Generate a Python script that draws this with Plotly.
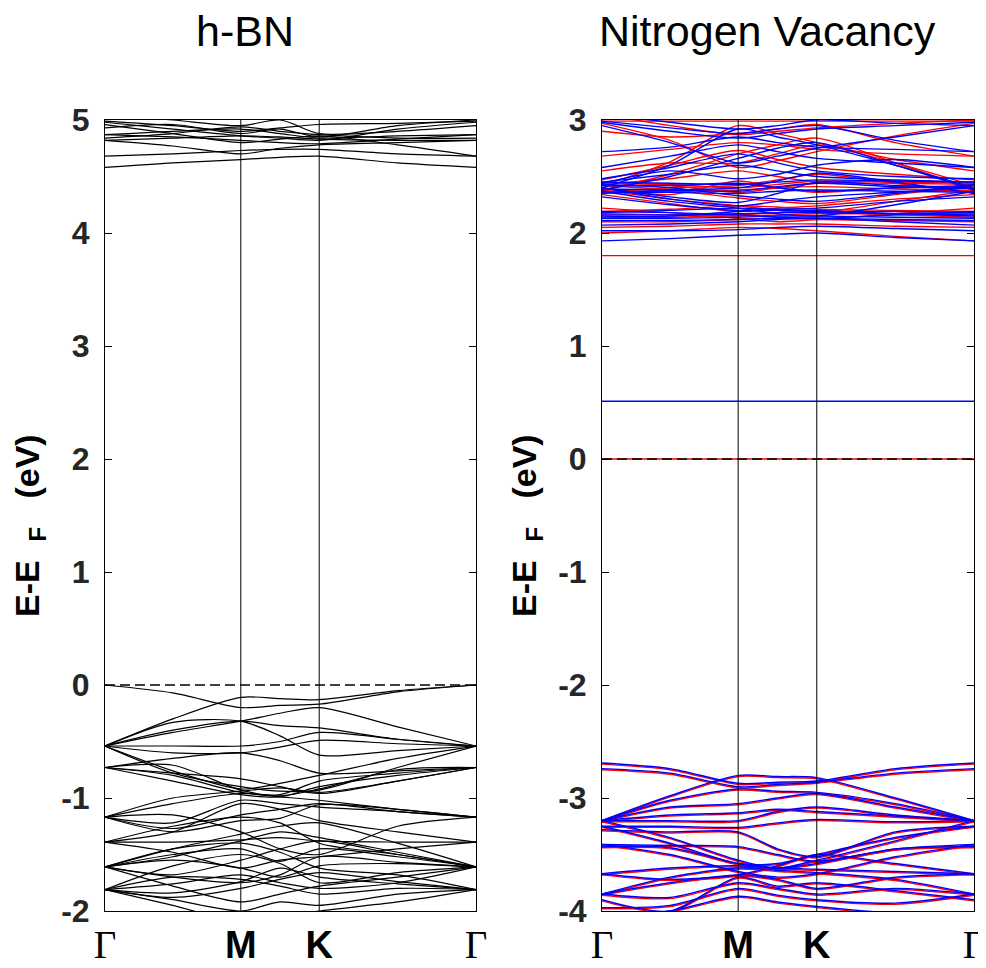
import plotly.graph_objects as go

# ---------------- data ----------------
HSP_X = [0.0, 0.5774, 0.9107, 1.5774]
HSP_LABELS = ["Γ", "M", "K", "Γ"]
K_SAMPLES = [0.0, 0.2887, 0.5774, 0.7440, 0.9107, 1.2440, 1.5774]

TITLES = ["h-BN", "Nitrogen Vacancy"]
Y_LABEL = "<b>E-E&nbsp;&nbsp;<sub>F</sub>&nbsp;&nbsp;&nbsp;(eV)</b>"
YRANGE_BN = [-2, 5]
YRANGE_VAC = [-4, 3]
YTICKS_BN = [-2, -1, 0, 1, 2, 3, 4, 5]
YTICKS_VAC = [-4, -3, -2, -1, 0, 1, 2, 3]

# h-BN bands (eV) at K_SAMPLES
BN_CONDUCTION = [
    [4.58, 4.62, 4.65, 4.67, 4.68, 4.62, 4.58],
    [4.68, 4.70, 4.73, 4.74, 4.74, 4.70, 4.68],
    [4.82, 4.84, 4.86, 4.85, 4.83, 4.82, 4.82],
    [4.82, 4.77, 4.70, 4.75, 4.78, 4.80, 4.82],
    [4.87, 4.85, 4.82, 4.80, 4.79, 4.83, 4.87],
    [4.87, 4.90, 4.92, 4.88, 4.84, 4.86, 4.87],
    [4.98, 4.92, 4.86, 4.84, 4.82, 4.92, 4.98],
    [4.99, 4.95, 4.90, 4.93, 4.96, 4.97, 4.99],
    [5.05, 5.00, 4.95, 5.00, 4.88, 4.90, 4.95],
    [4.93, 4.96, 4.88, 4.92, 4.85, 4.95, 5.00],
    [4.84, 4.88, 4.94, 4.90, 4.87, 4.84, 4.84],
    [4.96, 4.88, 4.80, 4.83, 4.86, 4.78, 4.68],
]
BN_VALENCE = [
    [0.00, -0.07, -0.20, -0.18, -0.17, -0.06, 0.00],
    [-0.54, -0.30, -0.11, -0.12, -0.13, -0.05, 0.00],
    [-0.54, -0.33, -0.32, -0.45, -0.62, -0.58, -0.54],
    [-0.54, -0.54, -0.54, -0.50, -0.42, -0.48, -0.54],
    [-0.54, -0.60, -0.60, -0.55, -0.49, -0.52, -0.54],
    [-0.54, -0.78, -0.90, -0.94, -0.93, -0.73, -0.54],
    [-0.54, -0.76, -0.92, -0.87, -0.80, -0.65, -0.54],
    [-0.54, -0.40, -0.32, -0.36, -0.38, -0.48, -0.54],
    [-0.54, -0.42, -0.32, -0.25, -0.20, -0.37, -0.54],
    [-0.73, -0.80, -0.95, -0.97, -0.85, -0.78, -0.73],
    [-0.73, -0.85, -0.97, -0.99, -0.90, -0.80, -0.73],
    [-0.73, -0.71, -0.93, -0.98, -0.92, -0.75, -0.73],
    [-0.73, -0.65, -0.60, -0.67, -0.78, -0.76, -0.73],
    [-0.73, -0.78, -0.83, -0.90, -0.96, -0.85, -0.73],
    [-1.17, -1.00, -0.94, -0.91, -0.95, -0.85, -0.73],
    [-1.17, -1.05, -0.96, -0.99, -1.02, -1.10, -1.17],
    [-1.17, -1.22, -1.02, -1.05, -1.08, -1.12, -1.17],
    [-1.17, -1.30, -1.20, -1.18, -1.06, -1.10, -1.17],
    [-1.17, -1.15, -1.30, -1.45, -1.50, -1.25, -1.17],
    [-1.17, -1.27, -1.15, -1.10, -1.05, -1.12, -1.17],
    [-1.39, -1.39, -1.37, -1.35, -1.38, -1.39, -1.39],
    [-1.39, -1.25, -1.17, -1.22, -1.40, -1.50, -1.61],
    [-1.39, -1.30, -1.05, -1.10, -1.20, -1.30, -1.39],
    [-1.39, -1.48, -1.62, -1.55, -1.52, -1.45, -1.39],
    [-1.61, -1.45, -1.32, -1.25, -1.22, -1.40, -1.61],
    [-1.61, -1.50, -1.45, -1.56, -1.45, -1.52, -1.61],
    [-1.61, -1.55, -1.62, -1.70, -1.60, -1.58, -1.61],
    [-1.61, -1.70, -1.75, -1.68, -1.52, -1.57, -1.61],
    [-1.61, -1.45, -1.40, -1.48, -1.62, -1.68, -1.81],
    [-1.61, -1.52, -1.38, -1.30, -1.35, -1.48, -1.61],
    [-1.61, -1.68, -1.55, -1.45, -1.38, -1.50, -1.61],
    [-1.61, -1.78, -1.92, -1.85, -1.78, -1.70, -1.61],
    [-1.81, -1.70, -1.72, -1.78, -1.85, -1.80, -1.81],
    [-1.81, -1.84, -1.74, -1.62, -1.70, -1.76, -1.81],
    [-1.81, -1.60, -1.50, -1.58, -1.75, -1.66, -1.61],
    [-1.81, -1.76, -1.68, -1.75, -1.80, -1.75, -1.61],
    [-1.81, -1.88, -1.80, -1.72, -1.66, -1.74, -1.81],
    [-1.81, -1.90, -2.00, -1.92, -1.95, -1.85, -1.81],
    [-1.81, -1.95, -2.10, -2.05, -2.00, -1.92, -1.81],
]

# Nitrogen vacancy: spin-up (red) and spin-down (blue) bands (eV)
VAC_UP_CONDUCTION = [
    [1.80, 1.80, 1.80, 1.80, 1.80, 1.80, 1.80],
    [2.00, 2.02, 2.05, 2.04, 2.02, 1.97, 1.93],
    [2.05, 2.06, 2.08, 2.08, 2.08, 2.06, 2.05],
    [2.10, 2.10, 2.12, 2.13, 2.12, 2.11, 2.10],
    [2.14, 2.14, 2.16, 2.18, 2.19, 2.16, 2.14],
    [2.17, 2.16, 2.15, 2.16, 2.17, 2.17, 2.17],
    [2.19, 2.21, 2.24, 2.23, 2.21, 2.20, 2.19],
    [2.22, 2.18, 2.13, 2.10, 2.12, 2.17, 2.22],
    [2.34, 2.26, 2.19, 2.22, 2.24, 2.30, 2.34],
    [2.38, 2.30, 2.24, 2.20, 2.18, 2.28, 2.38],
    [2.37, 2.37, 2.38, 2.40, 2.41, 2.39, 2.37],
    [2.40, 2.34, 2.46, 2.40, 2.36, 2.40, 2.40],
    [2.43, 2.48, 2.55, 2.50, 2.45, 2.44, 2.43],
    [2.44, 2.43, 2.40, 2.43, 2.46, 2.45, 2.44],
    [2.47, 2.60, 2.73, 2.65, 2.58, 2.52, 2.47],
    [2.55, 2.62, 2.62, 2.70, 2.78, 2.65, 2.55],
    [2.68, 2.74, 2.80, 2.78, 2.74, 2.70, 2.68],
    [2.38, 2.52, 2.70, 2.78, 2.84, 2.62, 2.38],
    [2.42, 2.38, 2.31, 2.28, 2.26, 2.34, 2.42],
    [2.42, 2.63, 2.95, 2.88, 2.80, 2.62, 2.42],
    [2.97, 2.82, 2.58, 2.64, 2.72, 2.86, 2.97],
    [2.99, 2.99, 2.99, 2.99, 2.99, 2.99, 2.99],
    [3.05, 2.95, 2.87, 2.90, 2.93, 2.97, 3.00],
    [2.36, 2.40, 2.42, 2.47, 2.52, 2.44, 2.36],
    [2.45, 2.42, 2.36, 2.40, 2.44, 2.46, 2.45],
    [2.90, 2.85, 2.88, 2.92, 2.96, 2.80, 2.68],
]
VAC_DN_CONDUCTION = [
    [1.93, 1.95, 1.98, 1.99, 2.00, 1.96, 1.93],
    [2.02, 2.02, 2.03, 2.05, 2.06, 2.04, 2.02],
    [2.07, 2.08, 2.10, 2.12, 2.13, 2.10, 2.07],
    [2.11, 2.11, 2.12, 2.13, 2.13, 2.12, 2.11],
    [2.13, 2.13, 2.14, 2.15, 2.15, 2.14, 2.13],
    [2.15, 2.15, 2.19, 2.20, 2.20, 2.17, 2.15],
    [2.16, 2.16, 2.17, 2.18, 2.18, 2.17, 2.16],
    [2.18, 2.20, 2.22, 2.21, 2.19, 2.19, 2.18],
    [2.19, 2.18, 2.16, 2.14, 2.13, 2.16, 2.19],
    [2.32, 2.25, 2.20, 2.21, 2.22, 2.28, 2.32],
    [2.37, 2.28, 2.22, 2.17, 2.15, 2.25, 2.37],
    [2.36, 2.36, 2.35, 2.37, 2.38, 2.37, 2.36],
    [2.39, 2.38, 2.37, 2.41, 2.44, 2.41, 2.39],
    [2.40, 2.32, 2.27, 2.35, 2.45, 2.42, 2.40],
    [2.42, 2.42, 2.44, 2.40, 2.37, 2.40, 2.42],
    [2.45, 2.44, 2.43, 2.45, 2.47, 2.46, 2.45],
    [2.45, 2.52, 2.60, 2.55, 2.50, 2.47, 2.45],
    [2.48, 2.58, 2.70, 2.62, 2.55, 2.50, 2.48],
    [2.58, 2.68, 2.78, 2.72, 2.66, 2.62, 2.58],
    [2.72, 2.76, 2.85, 2.80, 2.76, 2.74, 2.72],
    [2.38, 2.50, 2.66, 2.75, 2.80, 2.60, 2.38],
    [2.40, 2.60, 2.92, 2.85, 2.78, 2.60, 2.40],
    [2.95, 2.80, 2.62, 2.68, 2.75, 2.85, 2.95],
    [2.43, 2.40, 2.33, 2.30, 2.28, 2.35, 2.43],
    [2.98, 2.90, 2.84, 2.88, 2.92, 2.95, 2.98],
    [2.99, 2.93, 2.88, 2.92, 2.95, 2.82, 2.72],
    [3.05, 2.98, 2.92, 2.95, 3.00, 2.97, 2.95],
    [2.40, 2.30, 2.24, 2.28, 2.32, 2.36, 2.40],
    [2.44, 2.55, 2.48, 2.52, 2.60, 2.65, 2.58],
    [2.35, 2.38, 2.40, 2.46, 2.53, 2.45, 2.35],
]
VAC_UP_DEFECT = [0.00, 0.00, 0.00, 0.00, 0.00, 0.00, 0.00]
VAC_DN_DEFECT = [0.51, 0.51, 0.51, 0.51, 0.51, 0.51, 0.51]

VAC_DN_VALENCE = [
    [-2.69, -2.74, -2.87, -2.86, -2.85, -2.74, -2.69],
    [-2.74, -2.78, -2.90, -2.88, -2.86, -2.78, -2.74],
    [-3.20, -2.98, -2.80, -2.81, -2.82, -3.00, -3.20],
    [-3.20, -3.02, -2.92, -2.94, -2.95, -3.05, -3.20],
    [-3.20, -3.08, -3.05, -3.00, -2.96, -3.08, -3.20],
    [-3.20, -3.15, -3.13, -3.10, -3.12, -3.16, -3.20],
    [-3.20, -3.20, -3.20, -3.12, -3.08, -3.15, -3.20],
    [-3.25, -3.25, -3.26, -3.22, -3.19, -3.21, -3.20],
    [-3.20, -3.35, -3.55, -3.62, -3.55, -3.38, -3.20],
    [-3.25, -3.40, -3.58, -3.58, -3.50, -3.35, -3.25],
    [-3.28, -3.30, -3.30, -3.45, -3.52, -3.30, -3.25],
    [-3.41, -3.42, -3.43, -3.50, -3.56, -3.45, -3.41],
    [-3.43, -3.44, -3.58, -3.62, -3.58, -3.45, -3.43],
    [-3.67, -3.62, -3.60, -3.62, -3.63, -3.65, -3.67],
    [-3.85, -3.70, -3.62, -3.64, -3.66, -3.72, -3.85],
    [-3.85, -3.75, -3.68, -3.72, -3.80, -3.70, -3.67],
    [-3.85, -3.88, -3.75, -3.80, -3.85, -3.80, -3.85],
    [-3.97, -3.95, -3.80, -3.86, -3.90, -3.93, -3.85],
    [-3.90, -4.00, -3.70, -3.78, -3.75, -3.82, -3.90],
    [-4.05, -4.00, -3.87, -3.92, -3.96, -4.02, -4.05],
    [-3.67, -3.72, -3.68, -3.60, -3.50, -3.58, -3.67],
    [-3.41, -3.50, -3.65, -3.70, -3.67, -3.52, -3.41],
]
VAC_UP_VALENCE = [
    [-2.70, -2.75, -2.88, -2.87, -2.86, -2.75, -2.70],
    [-2.75, -2.79, -2.91, -2.89, -2.87, -2.79, -2.75],
    [-3.21, -2.99, -2.81, -2.82, -2.83, -3.01, -3.21],
    [-3.21, -3.03, -2.93, -2.95, -2.96, -3.06, -3.21],
    [-3.21, -3.09, -3.06, -3.01, -2.97, -3.09, -3.21],
    [-3.21, -3.16, -3.14, -3.11, -3.13, -3.17, -3.21],
    [-3.21, -3.21, -3.21, -3.13, -3.09, -3.16, -3.21],
    [-3.26, -3.26, -3.27, -3.23, -3.20, -3.22, -3.21],
    [-3.21, -3.36, -3.56, -3.63, -3.56, -3.39, -3.21],
    [-3.26, -3.41, -3.59, -3.59, -3.51, -3.36, -3.26],
    [-3.29, -3.31, -3.31, -3.46, -3.53, -3.31, -3.26],
    [-3.42, -3.43, -3.44, -3.51, -3.57, -3.46, -3.42],
    [-3.44, -3.45, -3.59, -3.63, -3.59, -3.46, -3.44],
    [-3.68, -3.63, -3.61, -3.63, -3.64, -3.66, -3.68],
    [-3.86, -3.71, -3.63, -3.65, -3.67, -3.73, -3.86],
    [-3.86, -3.76, -3.69, -3.73, -3.81, -3.71, -3.68],
    [-3.86, -3.89, -3.76, -3.81, -3.86, -3.81, -3.86],
    [-3.98, -3.96, -3.81, -3.87, -3.91, -3.94, -3.86],
    [-3.91, -4.01, -3.71, -3.79, -3.76, -3.83, -3.91],
    [-4.06, -4.01, -3.88, -3.93, -3.97, -4.03, -4.06],
    [-3.68, -3.73, -3.69, -3.61, -3.51, -3.59, -3.68],
    [-3.42, -3.51, -3.66, -3.71, -3.68, -3.53, -3.42],
]

# ---------------- figure ----------------
# page body has an 8px margin; the figure is made a little wider than the
# window so the right-most tick label is kept (the window crops the overflow)
W, H, OFF = 992, 960, 8

def px_x(x):
    return (x - OFF) / W

def px_y(y):
    return 1 - (y - OFF) / H

fig = go.Figure()

def add_band(values, color, width, xa, ya):
    fig.add_trace(go.Scatter(
        x=K_SAMPLES, y=values, mode="lines",
        line=dict(color=color, width=width, shape="spline", smoothing=0.8),
        xaxis=xa, yaxis=ya, showlegend=False, hoverinfo="skip"))

for b in BN_CONDUCTION + BN_VALENCE:
    add_band(b, "black", 1.2, "x", "y")

add_band(VAC_UP_DEFECT, "red", 1.5, "x2", "y2")
for b in VAC_UP_CONDUCTION + VAC_UP_VALENCE:
    add_band(b, "red", 1.4, "x2", "y2")
add_band(VAC_DN_DEFECT, "blue", 1.5, "x2", "y2")
for b in VAC_DN_CONDUCTION + VAC_DN_VALENCE:
    add_band(b, "blue", 1.4, "x2", "y2")

# Fermi level dashed lines and high-symmetry verticals
for xr, yr in (("x", "y"), ("x2", "y2")):
    fig.add_shape(type="line", xref=xr + " domain", yref=yr, x0=0, x1=1, y0=0, y1=0,
                  line=dict(color="black", width=1.3, dash="10px,5px"), layer="above")
    for xv in HSP_X[1:-1]:
        fig.add_shape(type="line", xref=xr, yref=yr + " domain", x0=xv, x1=xv, y0=0, y1=1,
                      line=dict(color="black", width=1), layer="above")

tick_text = []
for lab in HSP_LABELS:
    if lab == "Γ":
        tick_text.append('<span style="font-family:Liberation Serif;font-weight:normal;font-size:39px">Γ</span>')
    else:
        tick_text.append("<b>%s</b>" % lab)

tick_font = dict(family="Liberation Sans, Arial", size=32, color="#262626", weight="bold")
xtick_font = dict(family="Liberation Sans, Arial", size=38, color="black", weight="bold")

xcommon = dict(range=[HSP_X[0], HSP_X[-1]], tickvals=HSP_X, ticktext=tick_text,
               showline=True, linecolor="black", linewidth=1, mirror=True,
               ticks="", showgrid=False, zeroline=False, tickfont=xtick_font,
               ticklabelstandoff=0, automargin=False)

def ycommon(ticks):
    return dict(tickvals=ticks, ticktext=[str(t) for t in ticks],
                showline=True, linecolor="black", linewidth=1, mirror="ticks",
                ticks="inside", ticklen=7, tickcolor="black", showgrid=False, zeroline=False,
                tickfont=tick_font, ticklabelstandoff=8, automargin=False)

ydom = [px_y(911), px_y(120)]
label_font = dict(family="Liberation Sans, Arial", size=34, color="black")
fig.update_layout(
    width=W, height=H,
    margin=dict(l=0, r=0, t=0, b=0),
    paper_bgcolor="white", plot_bgcolor="white",
    xaxis=dict(domain=[px_x(105), px_x(476)], anchor="y", **xcommon),
    yaxis=dict(domain=ydom, anchor="x", range=YRANGE_BN, **ycommon(YTICKS_BN)),
    xaxis2=dict(domain=[px_x(602), px_x(974)], anchor="y2", **xcommon),
    yaxis2=dict(domain=ydom, anchor="x2", range=YRANGE_VAC, **ycommon(YTICKS_VAC)),
    annotations=[
        dict(text=TITLES[0], x=px_x(245), y=px_y(31), xref="paper", yref="paper",
             showarrow=False, xanchor="center", yanchor="middle",
             font=dict(family="Liberation Sans, Arial", size=43, color="black")),
        dict(text=TITLES[1], x=px_x(767), y=px_y(31), xref="paper", yref="paper",
             showarrow=False, xanchor="center", yanchor="middle",
             font=dict(family="Liberation Sans, Arial", size=43, color="black")),
        dict(text=Y_LABEL, x=px_x(29), y=px_y(526), xref="paper", yref="paper",
             showarrow=False, xanchor="center", yanchor="middle", textangle=-90,
             font=label_font),
        dict(text=Y_LABEL, x=px_x(526), y=px_y(526), xref="paper", yref="paper",
             showarrow=False, xanchor="center", yanchor="middle", textangle=-90,
             font=label_font),
    ],
)

fig.write_html("out.html")
